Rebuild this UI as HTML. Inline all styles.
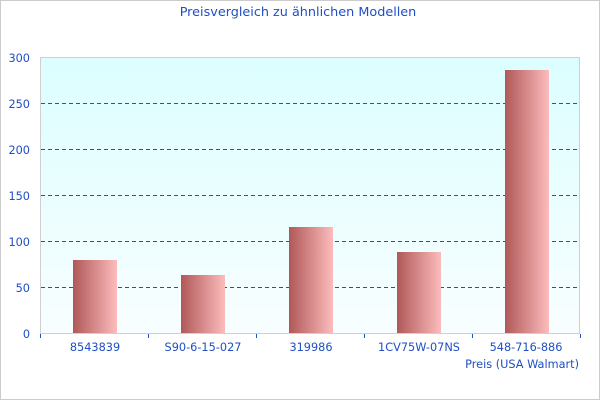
<!DOCTYPE html>
<html><head><meta charset="utf-8"><style>
body{margin:0;background:#fff}
svg text{font-family:"DejaVu Sans","Liberation Sans",sans-serif;font-size:11.3px;fill:#1f4fc4}
</style></head><body>
<svg width="600" height="400" xmlns="http://www.w3.org/2000/svg">
<defs>
<linearGradient id="bg" x1="0" y1="0" x2="0" y2="1"><stop offset="0" stop-color="#dcfeff"/><stop offset="1" stop-color="#f8feff"/></linearGradient>
<linearGradient id="bar" x1="0" y1="0" x2="1" y2="0"><stop offset="0" stop-color="#b05858"/><stop offset="1" stop-color="#fcbcbc"/></linearGradient>
</defs>
<rect x="0.5" y="0.5" width="599" height="399" fill="#fff" stroke="#cccccc"/>
<text x="298" y="16" text-anchor="middle" style="font-size:12.8px">Preisvergleich zu ähnlichen Modellen</text>
<rect x="40.5" y="57.5" width="539" height="276" fill="url(#bg)" stroke="#d0d0d0"/>
<g stroke="#3a4f7a" stroke-dasharray="4,3" stroke-width="1">
<line x1="41" x2="579" y1="103.5" y2="103.5"/>
<line x1="41" x2="579" y1="149.5" y2="149.5"/>
<line x1="41" x2="579" y1="195.5" y2="195.5"/>
<line x1="41" x2="579" y1="241.5" y2="241.5"/>
<line x1="41" x2="579" y1="287.5" y2="287.5"/>
</g>
<g fill="url(#bar)">
<rect x="73" y="260" width="44" height="73"/>
<rect x="181" y="275" width="44" height="58"/>
<rect x="289" y="227" width="44" height="106"/>
<rect x="397" y="252" width="44" height="81"/>
<rect x="505" y="70" width="44" height="263"/>
</g>
<g stroke="#1f4fc4">
<line x1="40.5" x2="40.5" y1="334" y2="338"/>
<line x1="148.5" x2="148.5" y1="334" y2="338"/>
<line x1="256.5" x2="256.5" y1="334" y2="338"/>
<line x1="364.5" x2="364.5" y1="334" y2="338"/>
<line x1="472.5" x2="472.5" y1="334" y2="338"/>
<line x1="580.5" x2="580.5" y1="334" y2="338"/>
</g>
<g text-anchor="end">
<text x="30" y="62">300</text><text x="30" y="108">250</text><text x="30" y="154">200</text>
<text x="30" y="200">150</text><text x="30" y="246">100</text><text x="30" y="292">50</text><text x="30" y="338">0</text>
</g>
<g text-anchor="middle">
<text x="95" y="351">8543839</text><text x="203" y="351">S90-6-15-027</text><text x="311" y="351">319986</text>
<text x="419" y="351">1CV75W-07NS</text><text x="526" y="351">548-716-886</text>
</g>
<text x="579" y="368" text-anchor="end">Preis (USA Walmart)</text>
</svg>
</body></html>
